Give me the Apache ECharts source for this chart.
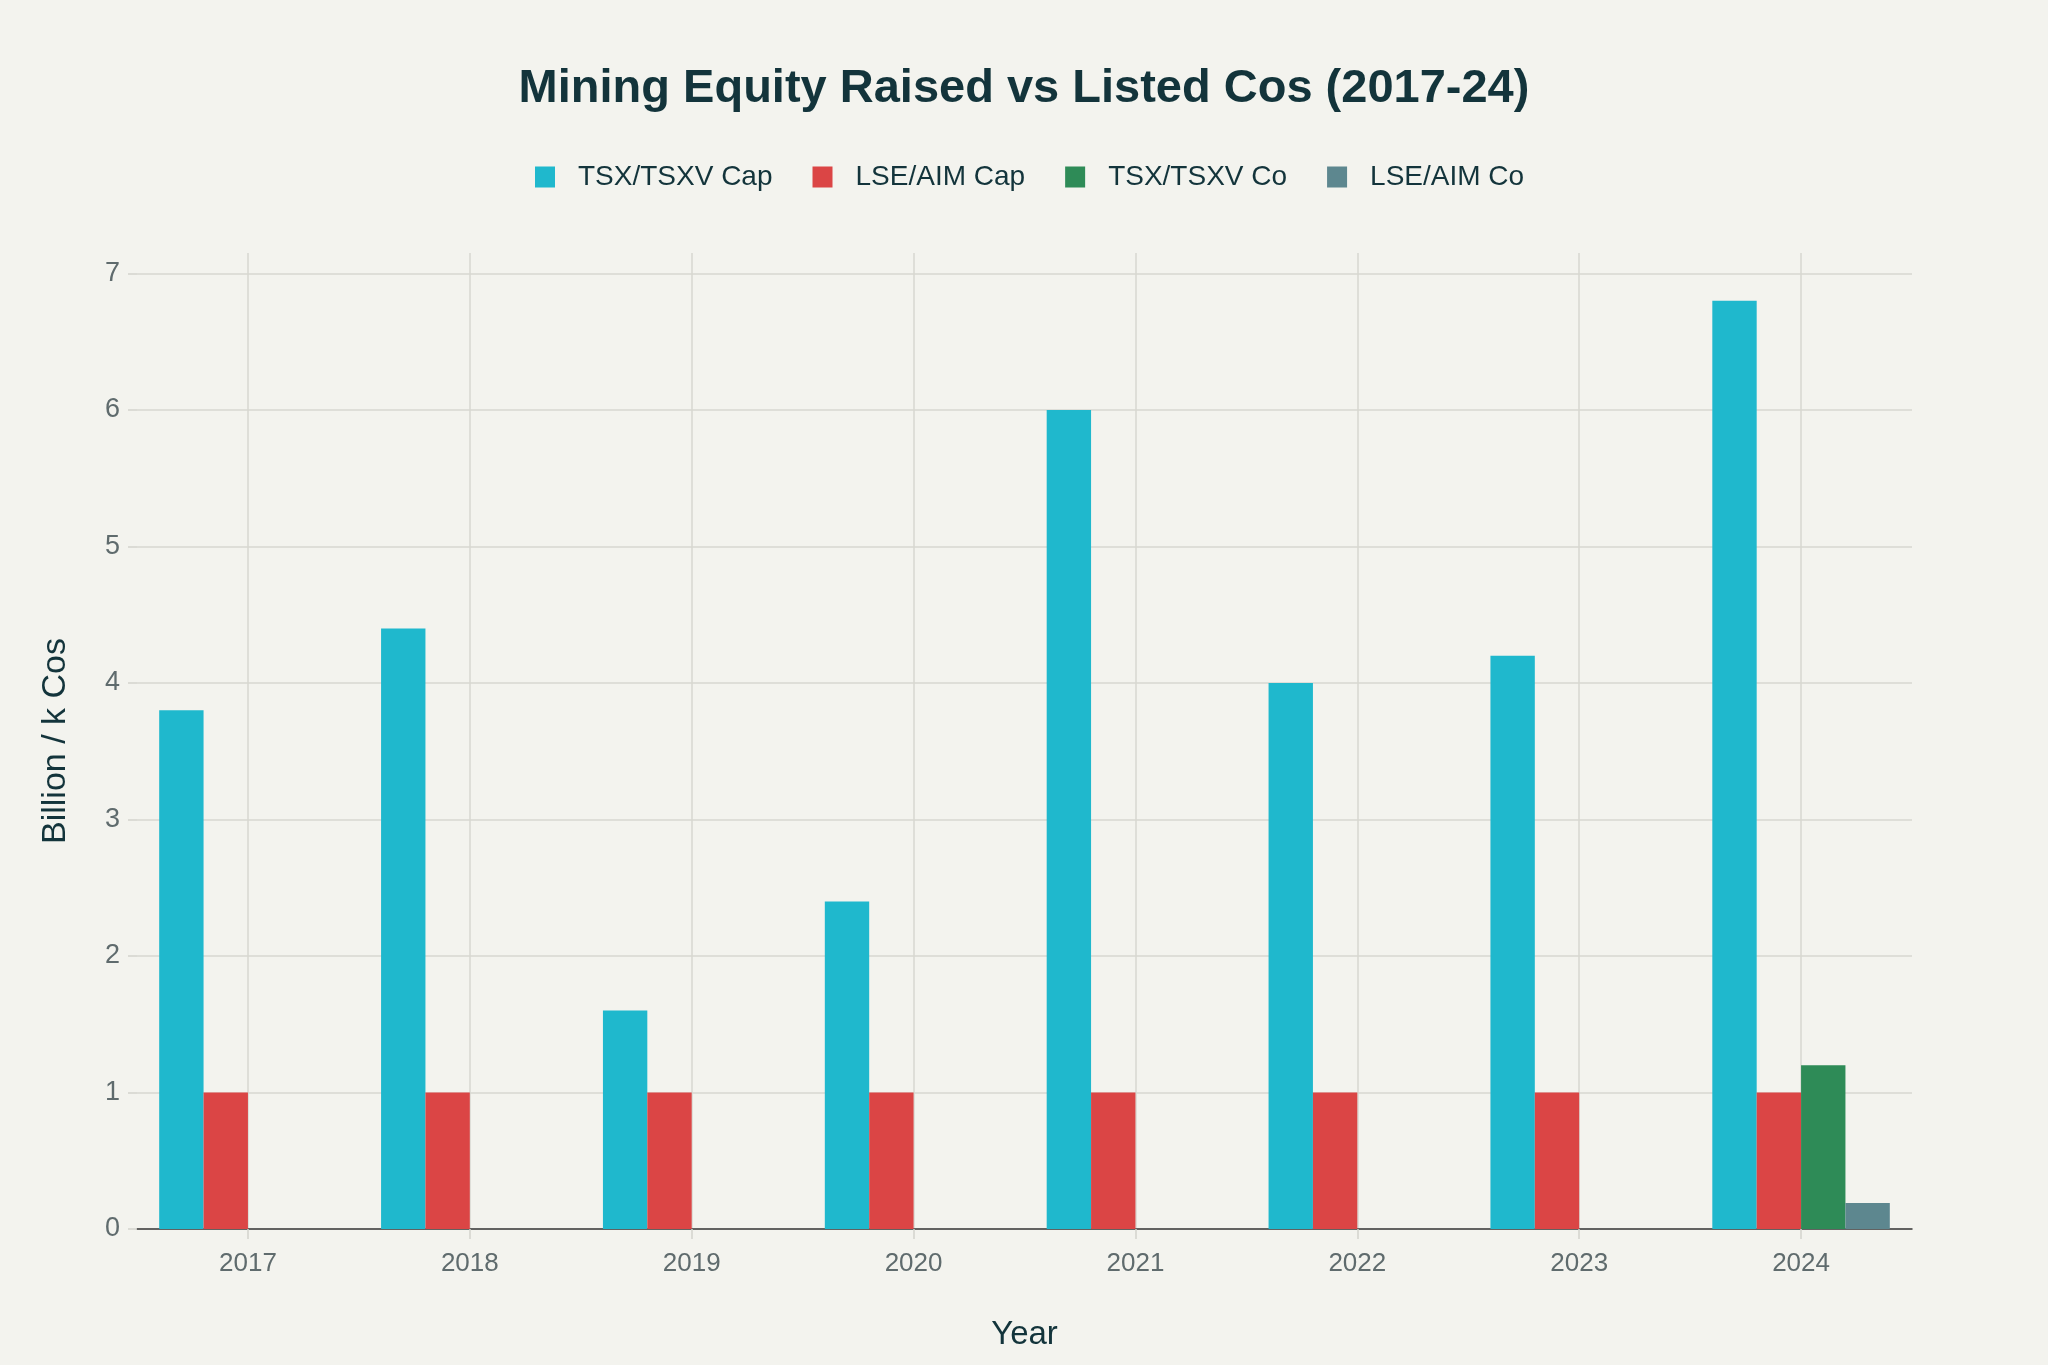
<!DOCTYPE html>
<html>
<head>
<meta charset="utf-8">
<script src="https://cdn.jsdelivr.net/npm/echarts@6/dist/echarts.min.js"></script>
<style>
html,body{margin:0;padding:0;background:#F3F3EE;}
#chart{width:2048px;height:1365px;}
</style>
</head>
<body>
<div id="chart"></div>
<script>
const years = ['2017','2018','2019','2020','2021','2022','2023','2024'];
const tsxCap = [3.8, 4.4, 1.6, 2.4, 6.0, 4.0, 4.2, 6.8];
const lseCap = [1, 1, 1, 1, 1, 1, 1, 1];
const tsxCo = [0, 0, 0, 0, 0, 0, 0, 1.2];
const lseCo = [0, 0, 0, 0, 0, 0, 0, 0.19];
const yTicks = [0, 1, 2, 3, 4, 5, 6, 7];

const FONT = '"Liberation Sans", Arial, sans-serif';
const chart = echarts.init(document.getElementById('chart'));

const seriesDefs = [
  {name: 'TSX/TSXV Cap', data: tsxCap, color: '#1FB8CD'},
  {name: 'LSE/AIM Cap', data: lseCap, color: '#DB4545'},
  {name: 'TSX/TSXV Co', data: tsxCo, color: '#2E8B57'},
  {name: 'LSE/AIM Co', data: lseCo, color: '#5D878F'}
];

chart.setOption({
  backgroundColor: '#F3F3EE',
  animation: false,
  textStyle: {fontFamily: FONT},
  title: {
    text: 'Mining Equity Raised vs Listed Cos (2017-24)',
    left: 'center',
    top: 61,
    textStyle: {fontFamily: FONT, fontSize: 47, fontWeight: 'bold', color: '#13343B'}
  },
  legend: {
    top: 158,
    left: 530,
    padding: 5,
    icon: 'rect',
    itemWidth: 20,
    itemHeight: 21,
    itemGap: 40,
    textStyle: {fontFamily: FONT, fontSize: 28, color: '#13343B', padding: [0, 0, 0, 18]},
    data: seriesDefs.map(s => s.name)
  },
  grid: {left: 137, right: 136, top: 253, bottom: 136, containLabel: false},
  xAxis: {
    type: 'category',
    data: years,
    name: 'Year',
    nameLocation: 'middle',
    nameGap: 89,
    nameTextStyle: {fontFamily: FONT, fontSize: 33, color: '#13343B'},
    axisLine: {show: true, lineStyle: {color: '#3a3a3a', width: 1.5}},
    axisTick: {show: true, alignWithLabel: true, length: 10, lineStyle: {color: '#d3d3cd', width: 1.5}},
    axisLabel: {fontFamily: FONT, fontSize: 26, color: '#5f6b6d', margin: 22},
    splitLine: {show: true, alignWithLabel: true, lineStyle: {color: '#d7d7d1', width: 1.5}}
  },
  yAxis: {
    type: 'value',
    min: 0,
    max: 7.15,
    interval: 1,
    name: 'Billion / k Cos',
    nameLocation: 'middle',
    nameGap: 64,
    nameTextStyle: {fontFamily: FONT, fontSize: 34, color: '#13343B'},
    axisLine: {show: false},
    axisTick: {show: true, length: 9, customValues: yTicks, lineStyle: {color: '#d3d3cd', width: 1.5}},
    axisLabel: {fontFamily: FONT, fontSize: 27, color: '#5f6b6d', margin: 17, customValues: yTicks},
    splitLine: {show: true, showMaxLine: true, lineStyle: {color: '#d7d7d1', width: 1.5}}
  },
  series: seriesDefs.map(s => ({
    name: s.name,
    type: 'bar',
    data: s.data,
    barGap: '0%',
    barCategoryGap: '20%',
    itemStyle: {color: s.color}
  }))
});
</script>
</body>
</html>
